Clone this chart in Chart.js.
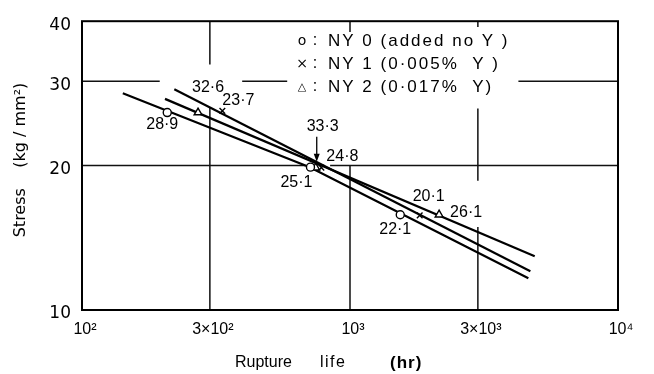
<!DOCTYPE html>
<html>
<head>
<meta charset="utf-8">
<script src="https://cdn.jsdelivr.net/npm/chart.js@4.4.0/dist/chart.umd.min.js"></script>
<style>
  html, body { margin: 0; padding: 0; background: #fff; }
  canvas { display: block; }
</style>
</head>
<body>
<canvas id="myChart" width="654" height="374"></canvas>
<script>
// test points: rupture life (hr) and stress (kg/mm2)
const ny0Life = [208, 712, 1540];
const ny0Stress = [25.8, 19.85, 15.8];
const ny1Life = [334, 782, 1820];
const ny1Stress = [26.0, 19.8, 15.75];
const ny2Life = [271, 745, 2150];
const ny2Stress = [25.8, 19.8, 15.8];

// numbers written beside each point
const ny0Notes = ['28·9', '25·1', '22·1'];
const ny1Notes = ['23·7', '24·8', '20·1'];
const ny2Notes = ['32·6', '33·3', '26·1'];

// the hand drawn lines
const ny0LineLife = [142, 708, 4630];
const ny0LineStress = [28.3, 19.85, 11.65];
const ny1LineLife = [221, 4710];
const ny1LineStress = [28.85, 12.05];
const ny2LineLife = [204, 4890];
const ny2LineStress = [27.55, 12.95];

const xTicks = [100, 300, 1000, 3000, 10000];
const xTickLabels = ['10²', '3×10²', '10³', '3×10³', '10⁴'];
const yTicks = [10, 20, 30, 40];

const legendSymbols = ['o', '×', '△'];
const legendLabels = ['NY 0 (added no Y )', 'NY 1 (0·005%  Y )', 'NY 2 (0·017%  Y)'];

// grid lines are broken where text sits on the paper
const gridXValues = [300, 1000, 3000];
const gridXSpans = [[[10, 26.5], [32.5, 40]], [[10, 20], [38, 40]], [[10, 14.9], [18.6, 26.3], [38.9, 40]]];
const gridYValues = [20, 30];
const gridYSpans = [[[100, 681], [843, 10000]], [[100, 195], [396, 583], [4250, 10000]]];

const noteOffsets = [
  [[-5, 12], [-14, 15], [-5, 15]],
  [[16, -10], [21, -11], [9, -19]],
  [[10, -25], [7, -41], [27, -2]]
];

function pairs(xs, ys) {
  return xs.map((v, i) => ({ x: v, y: ys[i] }));
}

const lineStyle = { type: 'line', showLine: true, borderColor: '#000', borderWidth: 2.2, pointRadius: 0, fill: false, order: 2 };
const pointStyle = { type: 'scatter', showLine: false, borderColor: '#000', backgroundColor: '#fff', pointBorderWidth: 1.4, order: 1 };

const frameAndGrid = {
  id: 'frameAndGrid',
  beforeDatasetsDraw(chart) {
    const { ctx, chartArea: a, scales: { x, y } } = chart;
    ctx.save();
    ctx.strokeStyle = '#111';
    ctx.lineWidth = 1.5;
    ctx.beginPath();
    gridXValues.forEach((v, i) => {
      const px = x.getPixelForValue(v);
      gridXSpans[i].forEach(([lo, hi]) => {
        ctx.moveTo(px, y.getPixelForValue(lo));
        ctx.lineTo(px, y.getPixelForValue(hi));
      });
    });
    gridYValues.forEach((v, i) => {
      const py = y.getPixelForValue(v);
      gridYSpans[i].forEach(([lo, hi]) => {
        ctx.moveTo(x.getPixelForValue(lo), py);
        ctx.lineTo(x.getPixelForValue(hi), py);
      });
    });
    ctx.stroke();
    ctx.lineWidth = 2;
    ctx.strokeStyle = '#000';
    ctx.strokeRect(a.left, a.top, a.right - a.left, a.bottom - a.top);
    ctx.restore();
  }
};

const annotations = {
  id: 'annotations',
  afterDraw(chart) {
    const ctx = chart.ctx;
    ctx.save();
    ctx.fillStyle = '#000';
    ctx.strokeStyle = '#000';

    // point notes
    ctx.font = '16px "Liberation Sans", Arial, sans-serif';
    ctx.textAlign = 'center';
    ctx.textBaseline = 'middle';
    [ny0Notes, ny1Notes, ny2Notes].forEach((notes, k) => {
      const pts = chart.getDatasetMeta(3 + k).data;
      notes.forEach((t, j) => {
        const [dx, dy] = noteOffsets[k][j];
        ctx.fillText(t, pts[j].x + dx, pts[j].y + dy);
      });
    });

    // arrow down to the middle NY 2 point
    const p = chart.getDatasetMeta(5).data[1];
    const ax = p.x + 1;
    ctx.lineWidth = 1.3;
    ctx.beginPath();
    ctx.moveTo(ax, p.y - 31);
    ctx.lineTo(ax, p.y - 12);
    ctx.stroke();
    ctx.beginPath();
    ctx.moveTo(ax - 3, p.y - 14);
    ctx.lineTo(ax + 3, p.y - 14);
    ctx.lineTo(ax, p.y - 6);
    ctx.closePath();
    ctx.fill();

    // legend written on the paper
    legendLabels.forEach((t, i) => {
      const ly = 41 + i * 23;
      ctx.textAlign = 'center';
      ctx.font = (i === 2 ? '11px' : '14px') + ' "DejaVu Sans", sans-serif';
      ctx.fillText(legendSymbols[i], 302, ly);
      ctx.font = '16px "Liberation Sans", Arial, sans-serif';
      ctx.fillText(':', 315, ly);
      ctx.textAlign = 'left';
      ctx.font = '17px "Liberation Sans", Arial, sans-serif';
      ctx.letterSpacing = '2px';
      ctx.fillText(t, 328, ly);
      ctx.letterSpacing = '0px';
    });

    // axis titles
    ctx.textAlign = 'left';
    ctx.font = '16px "Liberation Sans", Arial, sans-serif';
    ctx.fillText('Rupture', 235, 363);
    ctx.letterSpacing = '1.5px';
    ctx.fillText('life', 320, 363);
    ctx.font = 'bold 17px "Liberation Sans", Arial, sans-serif';
    ctx.letterSpacing = '1px';
    ctx.fillText('(hr)', 390, 363);
    ctx.letterSpacing = '0px';

    ctx.translate(21, 160);
    ctx.rotate(-Math.PI / 2);
    ctx.textAlign = 'center';
    ctx.font = '16px "DejaVu Sans", sans-serif';
    ctx.fillText('Stress    (kg / mm²)', 0, 0);
    ctx.restore();
  }
};

const ctx = document.getElementById('myChart').getContext('2d');
const myChart = new Chart(ctx, {
  type: 'scatter',
  data: {
    datasets: [
      Object.assign({ data: pairs(ny0LineLife, ny0LineStress) }, lineStyle),
      Object.assign({ data: pairs(ny1LineLife, ny1LineStress) }, lineStyle),
      Object.assign({ data: pairs(ny2LineLife, ny2LineStress) }, lineStyle),
      Object.assign({ data: pairs(ny0Life, ny0Stress), pointStyle: 'circle', pointRadius: 4 }, pointStyle),
      Object.assign({ data: pairs(ny1Life, ny1Stress), pointStyle: 'crossRot', pointRadius: 4 }, pointStyle),
      Object.assign({ data: pairs(ny2Life, ny2Stress), pointStyle: 'triangle', pointRadius: 4.5 }, pointStyle)
    ]
  },
  options: {
    responsive: false,
    animation: false,
    events: [],
    layout: { padding: { top: 11, right: 36, left: 0, bottom: 0 } },
    plugins: {
      legend: { display: false },
      tooltip: { enabled: false }
    },
    scales: {
      x: {
        type: 'logarithmic',
        min: 100,
        max: 10000,
        afterBuildTicks: (s) => { s.ticks = xTicks.map(v => ({ value: v })); },
        afterFit: (s) => { s.height = 64; },
        grid: { display: false, drawTicks: false },
        border: { display: false },
        ticks: {
          color: '#000',
          font: { family: '"Liberation Sans", Arial, sans-serif', size: 16 },
          padding: 10,
          labelOffset: 3,
          maxRotation: 0,
          autoSkip: false,
          callback: (v) => xTickLabels[xTicks.indexOf(v)]
        }
      },
      y: {
        type: 'logarithmic',
        min: 10,
        max: 40,
        afterBuildTicks: (s) => { s.ticks = yTicks.map(v => ({ value: v })); },
        afterFit: (s) => { s.width = 82; },
        grid: { display: false, drawTicks: false },
        border: { display: false },
        ticks: {
          color: '#000',
          font: { family: '"DejaVu Sans", sans-serif', size: 17 },
          padding: 11,
          labelOffset: 4,
          autoSkip: false,
          callback: (v) => String(v)
        }
      }
    }
  },
  plugins: [frameAndGrid, annotations]
});
</script>
</body>
</html>
